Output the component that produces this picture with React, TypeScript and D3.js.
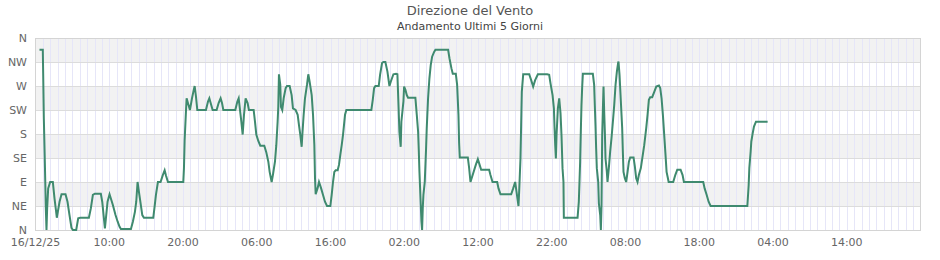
import React from "react";
import * as d3 from "d3";

// Hours elapsed since 16/12/25 00:00
const hoursFromStart: number[] = [
  0.54, 0.99, 1.04, 1.13, 1.27, 1.4, 1.49, 1.58, 1.72, 1.99, 2.35, 2.58, 2.8, 2.89, 3.26, 3.53, 4.07, 4.34, 4.61, 4.88,
  5.07, 5.52, 5.79, 6.06, 7.24, 7.51, 7.78, 8.05, 8.86, 9.05, 9.23, 9.41, 9.59, 9.77, 10.04, 10.22, 10.49, 10.85, 11.13, 11.4,
  11.58, 12.94, 13.21, 13.48, 13.66, 13.84, 14.02, 14.48, 14.7, 15.97, 16.15, 16.33, 16.6, 16.96, 17.24, 17.51, 17.69, 17.96, 20.04, 20.13,
  20.22, 20.4, 20.49, 20.67, 20.94, 21.22, 21.4, 21.58, 21.76, 21.94, 23.11, 23.39, 23.57, 23.75, 24.02, 24.56, 24.83, 25.1, 25.29, 25.47,
  27.09, 27.37, 27.55, 27.73, 27.91, 28.09, 28.27, 28.49, 28.76, 28.94, 29.58, 29.76, 29.94, 30.21, 30.48, 31.02, 31.29, 31.57, 31.75, 32.02,
  32.2, 32.47, 32.65, 32.83, 32.92, 33.01, 33.19, 33.28, 33.46, 33.65, 33.92, 34.1, 34.46, 34.73, 34.91, 35.27, 35.55, 35.73, 35.91, 36.09,
  36.18, 36.36, 36.54, 36.81, 36.99, 37.17, 37.45, 37.63, 37.81, 37.9, 37.99, 38.26, 38.44, 38.71, 38.98, 39.25, 39.53, 39.98, 40.16, 40.34,
  40.52, 40.7, 40.97, 41.15, 41.33, 41.52, 41.7, 41.97, 42.15, 45.54, 45.73, 45.91, 46.09, 46.54, 46.72, 46.99, 47.17, 47.44, 47.72, 47.99,
  48.17, 48.53, 48.89, 49.07, 49.25, 49.34, 49.52, 49.61, 49.89, 49.98, 50.16, 50.34, 50.52, 51.51, 51.7, 51.88, 51.97, 52.06, 52.15, 52.24,
  52.33, 52.42, 52.51, 52.6, 52.78, 52.96, 53.05, 53.23, 53.41, 53.59, 53.78, 54.05, 54.23, 55.95, 56.13, 56.4, 56.58, 56.99, 57.17, 57.35,
  57.44, 57.53, 58.62, 58.8, 58.98, 59.34, 59.7, 59.98, 60.16, 60.43, 61.51, 61.69, 61.97, 62.6, 62.78, 63.05, 64.5, 64.77, 65.04, 65.22,
  65.49, 65.58, 65.76, 65.85, 65.94, 66.13, 66.94, 67.21, 67.48, 67.75, 68.12, 69.38, 69.65, 69.83, 70.11, 70.29, 70.38, 70.47, 70.56, 70.65,
  70.83, 71.01, 71.19, 71.32, 71.46, 71.59, 71.64, 73.5, 73.67, 73.76, 73.85, 73.94, 74.03, 74.12, 74.22, 75.57, 75.75, 75.84, 75.93, 76.02,
  76.11, 76.3, 76.39, 76.57, 76.66, 76.75, 76.84, 76.93, 77.02, 77.11, 77.2, 77.29, 77.47, 77.56, 77.74, 77.92, 78.1, 78.29, 78.47, 78.65,
  78.83, 79.01, 79.05, 79.19, 79.37, 79.55, 79.64, 79.73, 79.91, 80.09, 80.28, 80.46, 80.64, 81.09, 81.27, 81.45, 81.63, 81.81, 82.08, 82.27,
  82.54, 82.81, 82.99, 83.17, 83.35, 83.62, 83.9, 84.17, 84.53, 84.71, 84.89, 85.07, 85.25, 85.43, 85.57, 85.75, 85.85, 86.47, 86.75, 87.02,
  87.47, 87.74, 87.92, 90.54, 90.73, 91.0, 91.27, 91.54, 96.52, 96.7, 96.79, 96.97, 97.06, 97.24, 97.42, 97.69, 99.27,
];

// Wind direction in degrees (0 = N, 90 = E, 180 = S, 270 = W, 360 = N)
const directionDeg: number[] = [
  338, 338, 294, 209, 125, 41, 0, 41, 78, 90, 90, 59, 34, 23, 53, 67, 67, 53, 28, 4,
  0, 0, 22, 23, 23, 41, 66, 68, 68, 53, 28, 3, 28, 53, 67, 59, 47, 28, 16, 6,
  2, 2, 16, 34, 53, 90, 72, 28, 23, 23, 44, 66, 90, 90, 102, 112, 102, 90, 90, 116,
  168, 222, 247, 238, 225, 247, 259, 270, 250, 225, 225, 241, 247, 238, 225, 225, 238, 247, 238, 225,
  225, 241, 247, 225, 203, 179, 216, 247, 238, 225, 225, 203, 179, 167, 158, 158, 146, 128, 109, 90,
  104, 128, 159, 203, 231, 292, 272, 231, 225, 247, 266, 270, 270, 253, 228, 225, 216, 196, 178, 156,
  178, 216, 247, 272, 292, 278, 253, 216, 159, 97, 67, 79, 90, 79, 66, 53, 45, 45, 66, 90,
  109, 112, 112, 122, 141, 159, 179, 216, 225, 225, 244, 266, 270, 270, 291, 313, 315, 315, 297, 270,
  278, 292, 293, 292, 222, 184, 156, 203, 241, 269, 263, 253, 248, 248, 216, 184, 150, 109, 78, 47,
  16, 0, 41, 66, 90, 153, 191, 247, 284, 309, 325, 334, 338, 338, 322, 303, 293, 293, 272, 216,
  163, 136, 136, 116, 90, 106, 122, 133, 125, 113, 113, 103, 90, 90, 78, 67, 67, 78, 90, 72,
  45, 72, 134, 197, 259, 292, 292, 281, 269, 281, 292, 292, 291, 275, 253, 228, 191, 159, 134, 178,
  228, 247, 219, 178, 116, 90, 23, 23, 53, 90, 128, 184, 234, 266, 293, 293, 272, 234, 197, 153,
  116, 90, 50, 28, 0, 47, 178, 225, 269, 222, 184, 134, 109, 90, 116, 147, 172, 203, 234, 272,
  297, 314, 316, 291, 241, 191, 147, 109, 97, 90, 109, 128, 136, 136, 119, 97, 90, 103, 116, 134,
  159, 191, 216, 244, 249, 249, 259, 269, 271, 266, 247, 216, 178, 140, 109, 97, 90, 90, 103, 113,
  113, 103, 90, 90, 78, 66, 53, 45, 45, 84, 116, 147, 166, 181, 194, 203, 203,
];

const xTickHours: number[] = [0, 10, 20, 30, 40, 50, 60, 70, 80, 90, 100, 110];
const xTickLabels: string[] = [
  "16/12/25", "10:00", "20:00", "06:00", "16:00", "02:00", "12:00", "22:00", "08:00", "18:00", "04:00", "14:00",
];
const yTickDeg: number[] = [0, 45, 90, 135, 180, 225, 270, 315, 360];
const yTickLabels: string[] = ["N", "NE", "E", "SE", "S", "SW", "W", "NW", "N"];

const TITLE = "Direzione del Vento";
const SUBTITLE = "Andamento Ultimi 5 Giorni";
const TOTAL_HOURS = 120;

export default function App() {
  const W = 940;
  const H = 260;
  const left = 35.5;
  const right = 920.5;
  const top = 38;
  const bottom = 230;

  const x = d3.scaleLinear().domain([0, TOTAL_HOURS]).range([left, right]);
  const y = d3.scaleLinear().domain([0, 360]).range([bottom, top]);

  const data = hoursFromStart.map((h, i) => ({ h, d: directionDeg[i] }));
  const line = d3
    .line<{ h: number; d: number }>()
    .x((p) => x(p.h))
    .y((p) => y(p.d))
    .curve(d3.curveLinear);

  const hourLines = d3.range(1, TOTAL_HOURS);
  const bands = d3.range(0, 8).filter((i) => i % 2 === 0);

  const font = "'DejaVu Sans', Verdana, sans-serif";

  return (
    <svg
      width={W}
      height={H}
      style={{ position: "absolute", left: 0, top: 0, background: "#fff" }}
      fontFamily={font}
    >
      <text x={470} y={15} textAnchor="middle" fontSize={13} fill="#555">
        {TITLE}
      </text>
      <text x={470} y={30} textAnchor="middle" fontSize={11} fill="#444">
        {SUBTITLE}
      </text>

      {/* alternating bands: gray for the odd-numbered from the top */}
      {bands.map((i) => {
        const d0 = 360 - i * 45;
        const d1 = d0 - 45;
        return (
          <rect
            key={"b" + i}
            x={left}
            y={y(d0)}
            width={right - left}
            height={y(d1) - y(d0)}
            fill="#f2f2f2"
          />
        );
      })}

      {hourLines.map((h) => (
        <line
          key={"v" + h}
          x1={Math.round(x(h)) + 0.5}
          x2={Math.round(x(h)) + 0.5}
          y1={top}
          y2={bottom}
          stroke="#e6e6f8"
          strokeWidth={1}
        />
      ))}

      {yTickDeg.slice(1, -1).map((d) => (
        <line
          key={"h" + d}
          x1={left}
          x2={right}
          y1={Math.round(y(d)) + 0.5}
          y2={Math.round(y(d)) + 0.5}
          stroke="#dcdcdc"
        />
      ))}

      <rect
        x={left}
        y={top + 0.5}
        width={right - left}
        height={bottom - top}
        fill="none"
        stroke="#d4d4d4"
      />

      {yTickDeg.map((d, i) => (
        <text
          key={"yl" + i}
          x={27}
          y={y(d)}
          dy="0.35em"
          textAnchor="end"
          fontSize={11}
          fill="#666"
        >
          {yTickLabels[i]}
        </text>
      ))}

      {xTickHours.map((h, i) => (
        <text
          key={"xl" + i}
          x={x(h)}
          y={246}
          textAnchor="middle"
          fontSize={11}
          fill="#666"
        >
          {xTickLabels[i]}
        </text>
      ))}

      <path
        d={line(data) || ""}
        fill="none"
        stroke="#3f8a6f"
        strokeWidth={2}
        strokeLinejoin="miter"
      />
    </svg>
  );
}
